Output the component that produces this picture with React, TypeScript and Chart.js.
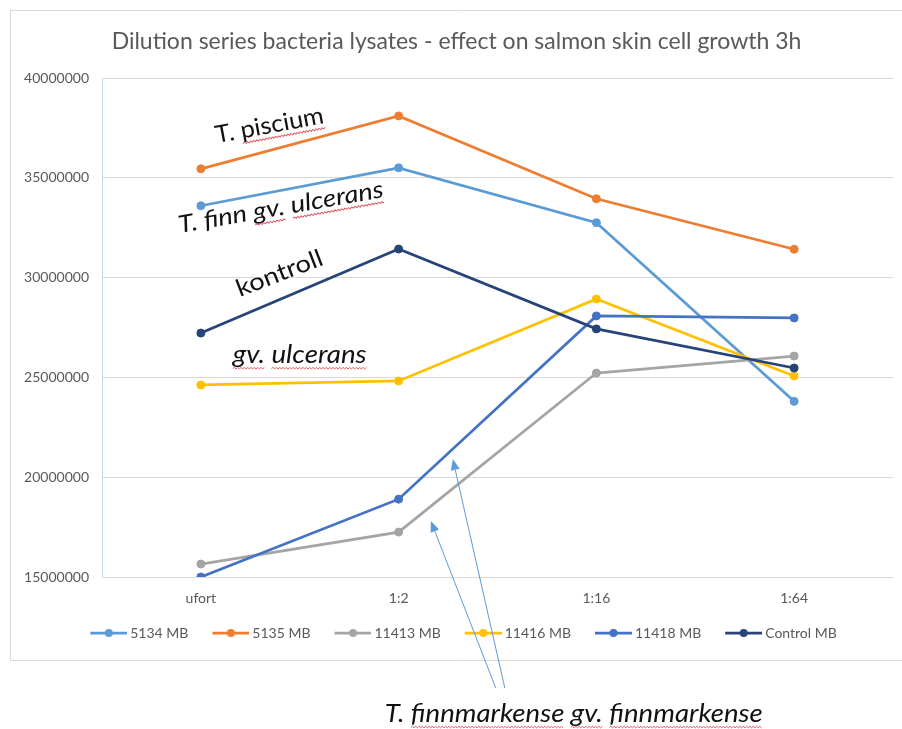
import React, { useEffect, useRef } from "react";
import { Chart, registerables } from "chart.js";

Chart.register(...registerables);

// ---------- data ----------
const categories = ["ufort", "1:2", "1:16", "1:64"];
const seriesNames = ["5134 MB", "5135 MB", "11413 MB", "11416 MB", "11418 MB", "Control MB"];
const values5134 = [33600000, 35500000, 32750000, 23800000];
const values5135 = [35450000, 38100000, 33950000, 31420000];
const values11413 = [15650000, 17250000, 25220000, 26070000];
const values11416 = [24620000, 24820000, 28930000, 25070000];
const values11418 = [15000000, 18900000, 28080000, 27980000];
const valuesControl = [27220000, 31430000, 27430000, 25470000];
const seriesValues = [values5134, values5135, values11413, values11416, values11418, valuesControl];
const seriesColors = ["#5B9BD5", "#ED7D31", "#A5A5A5", "#FFC000", "#4472C4", "#264478"];
const yMin = 15000000;
const yMax = 40000000;
const yStep = 5000000;
const titleText = "Dilution series bacteria lysates - effect on salmon skin cell growth 3h";

// ---------- annotations (in category-index / value space) ----------
const annotationTexts = [
  "T. piscium",
  "T. finn gv. ulcerans",
  "kontroll",
  "gv. ulcerans",
  "T. finnmarkense gv. finnmarkense",
];
const annotationX = [0.08, -0.107, 0.197, 0.161, 0.93];
const annotationY = [36.74e6, 32.23e6, 29.03e6, 25.72e6, 7.74e6];
const annotationAngle = [-10.5, -10, -21, 0, 0];
const annotationWidth = [110, 208, 91, 134, 378];
const annotationFontSize = [24, 24, 24, 25, 25];
const annotationItalic = [false, true, false, true, true];
const squiggleWords = ["piscium", "gv.", "ulcerans", "finnmarkense"];
const arrowTipX = [1.274, 1.163];
const arrowTipY = [20.91e6, 17.81e6];
const arrowTailX = [1.537, 1.491];
const arrowTailY = [9.44e6, 9.44e6];

const FONT = "Lato";
const TEXT_GREY = "#595959";

function makeLegendIcon(color: string): HTMLCanvasElement {
  const c = document.createElement("canvas");
  c.width = 55;
  c.height = 10;
  const g = c.getContext("2d")!;
  const x0 = c.width - 37;
  g.strokeStyle = color;
  g.lineWidth = 2.75;
  g.beginPath();
  g.moveTo(x0, 5);
  g.lineTo(c.width, 5);
  g.stroke();
  g.fillStyle = color;
  g.beginPath();
  g.arc(x0 + 18.5, 5, 4, 0, Math.PI * 2);
  g.fill();
  return c;
}

function drawSquiggle(ctx: CanvasRenderingContext2D, x0: number, x1: number, y: number) {
  ctx.save();
  ctx.strokeStyle = "#E0505A";
  ctx.lineWidth = 0.9;
  ctx.beginPath();
  let up = true;
  ctx.moveTo(x0, y);
  for (let x = x0 + 1.5; x <= x1; x += 1.5) {
    ctx.lineTo(x, up ? y - 1.1 : y + 0.4);
    up = !up;
  }
  ctx.stroke();
  ctx.restore();
}

function drawFittedText(
  ctx: CanvasRenderingContext2D,
  text: string,
  x: number,
  y: number,
  width: number,
  size: number,
  angleDeg: number,
  italic: boolean
) {
  const style = italic ? "italic " : "";
  ctx.save();
  ctx.font = `${style}${size}px ${FONT}`;
  const w0 = ctx.measureText(text).width;
  const sx = width / w0;
  ctx.translate(x, y);
  ctx.rotate((angleDeg * Math.PI) / 180);
  ctx.scale(sx, 1);
  ctx.fillStyle = "#111111";
  ctx.textAlign = "left";
  ctx.textBaseline = "alphabetic";
  ctx.fillText(text, 0, 0);
  let pos = 0;
  text.split(" ").forEach((tok) => {
    const start = text.indexOf(tok, pos);
    pos = start + tok.length;
    if (squiggleWords.includes(tok)) {
      const a = ctx.measureText(text.slice(0, start)).width;
      const b = a + ctx.measureText(tok).width;
      drawSquiggle(ctx, a, b, size * 0.22);
    }
  });
  ctx.restore();
}

function drawArrow(ctx: CanvasRenderingContext2D, tx: number, ty: number, tipX: number, tipY: number) {
  const ang = Math.atan2(tipY - ty, tipX - tx);
  const headLen = 11;
  const headHalf = 4.5;
  const bx = tipX - Math.cos(ang) * headLen;
  const by = tipY - Math.sin(ang) * headLen;
  ctx.save();
  ctx.strokeStyle = "#5B9BD5";
  ctx.fillStyle = "#5B9BD5";
  ctx.lineWidth = 1;
  ctx.beginPath();
  ctx.moveTo(tx, ty);
  ctx.lineTo(bx, by);
  ctx.stroke();
  ctx.beginPath();
  ctx.moveTo(tipX, tipY);
  ctx.lineTo(bx + Math.sin(ang) * headHalf, by - Math.cos(ang) * headHalf);
  ctx.lineTo(bx - Math.sin(ang) * headHalf, by + Math.cos(ang) * headHalf);
  ctx.closePath();
  ctx.fill();
  ctx.restore();
}

const framePlugin = {
  id: "frameAndNotes",
  beforeDraw(chart: any) {
    const ctx: CanvasRenderingContext2D = chart.ctx;
    ctx.save();
    ctx.fillStyle = "#ffffff";
    ctx.fillRect(0, 0, chart.width, chart.height);
    ctx.strokeStyle = "#D9D9D9";
    ctx.lineWidth = 1;
    ctx.beginPath();
    ctx.moveTo(chart.width, 10.5);
    ctx.lineTo(10.5, 10.5);
    ctx.lineTo(10.5, 660.5);
    ctx.lineTo(chart.width, 660.5);
    ctx.stroke();
    ctx.restore();
  },
  afterDraw(chart: any) {
    const ctx: CanvasRenderingContext2D = chart.ctx;
    const xs = chart.scales.x;
    const ys = chart.scales.y;
    annotationTexts.forEach((t, i) => {
      drawFittedText(
        ctx,
        t,
        xs.getPixelForValue(annotationX[i]),
        ys.getPixelForValue(annotationY[i]),
        annotationWidth[i],
        annotationFontSize[i],
        annotationAngle[i],
        annotationItalic[i]
      );
    });
    arrowTipX.forEach((_, i) => {
      drawArrow(
        ctx,
        xs.getPixelForValue(arrowTailX[i]),
        ys.getPixelForValue(arrowTailY[i]),
        xs.getPixelForValue(arrowTipX[i]),
        ys.getPixelForValue(arrowTipY[i])
      );
    });
  },
};

export default function App() {
  const canvasRef = useRef<HTMLCanvasElement | null>(null);

  useEffect(() => {
    if (!canvasRef.current) return;
    Chart.defaults.font.family = FONT;
    const icons = seriesColors.map((c) => makeLegendIcon(c));
    const n = seriesNames.length;
    const chart = new Chart(canvasRef.current, {
      type: "line",
      data: {
        labels: categories,
        datasets: seriesNames.map((name, i) => ({
          label: name,
          data: seriesValues[i],
          borderColor: seriesColors[i],
          backgroundColor: seriesColors[i],
          pointBackgroundColor: seriesColors[i],
          pointBorderColor: seriesColors[i],
          pointRadius: 4,
          pointBorderWidth: 1,
          borderWidth: 2.75,
          tension: 0,
          fill: false,
          order: n - i,
        })),
      },
      options: {
        responsive: false,
        animation: false,
        layout: { padding: { top: 18, left: 20, right: 9, bottom: 79 } },
        plugins: {
          title: {
            display: true,
            text: titleText,
            color: TEXT_GREY,
            font: { family: FONT, size: 23, weight: "normal", lineHeight: 1.2 },
            padding: { top: 10, bottom: 22.4 },
          },
          legend: {
            display: true,
            position: "bottom",
            labels: {
              usePointStyle: true,
              pointStyleWidth: 47,
              padding: 10,
              color: TEXT_GREY,
              font: { family: FONT, size: 14 },
              generateLabels: (ch: any) => {
                const items = Chart.defaults.plugins.legend.labels.generateLabels(ch);
                items.sort((a: any, b: any) => a.datasetIndex - b.datasetIndex);
                items.forEach((it: any) => {
                  it.pointStyle = icons[it.datasetIndex];
                });
                return items;
              },
            },
          },
          tooltip: { enabled: false },
        },
        scales: {
          x: {
            offset: true,
            grid: { display: false, drawTicks: false },
            border: { display: false },
            ticks: { color: TEXT_GREY, font: { family: FONT, size: 14 }, padding: 13 },
            afterFit: (s: any) => {
              s.height = 39;
            },
          },
          y: {
            min: yMin,
            max: yMax,
            grid: { color: "#D9D9D9", drawTicks: false, lineWidth: 1 },
            border: { display: true, color: "#C5DAF0", width: 1 },
            ticks: {
              stepSize: yStep,
              color: TEXT_GREY,
              font: { family: FONT, size: 14 },
              padding: 13,
              callback: (v: any) => String(v),
            },
            afterFit: (s: any) => {
              s.width = 82;
            },
          },
        },
      },
      plugins: [framePlugin],
    });
    return () => chart.destroy();
  }, []);

  return (
    <div style={{ position: "absolute", left: 0, top: 0, width: 902, height: 729, background: "#fff" }}>
      <canvas ref={canvasRef} width={902} height={729} style={{ display: "block", width: 902, height: 729 }} />
    </div>
  );
}
